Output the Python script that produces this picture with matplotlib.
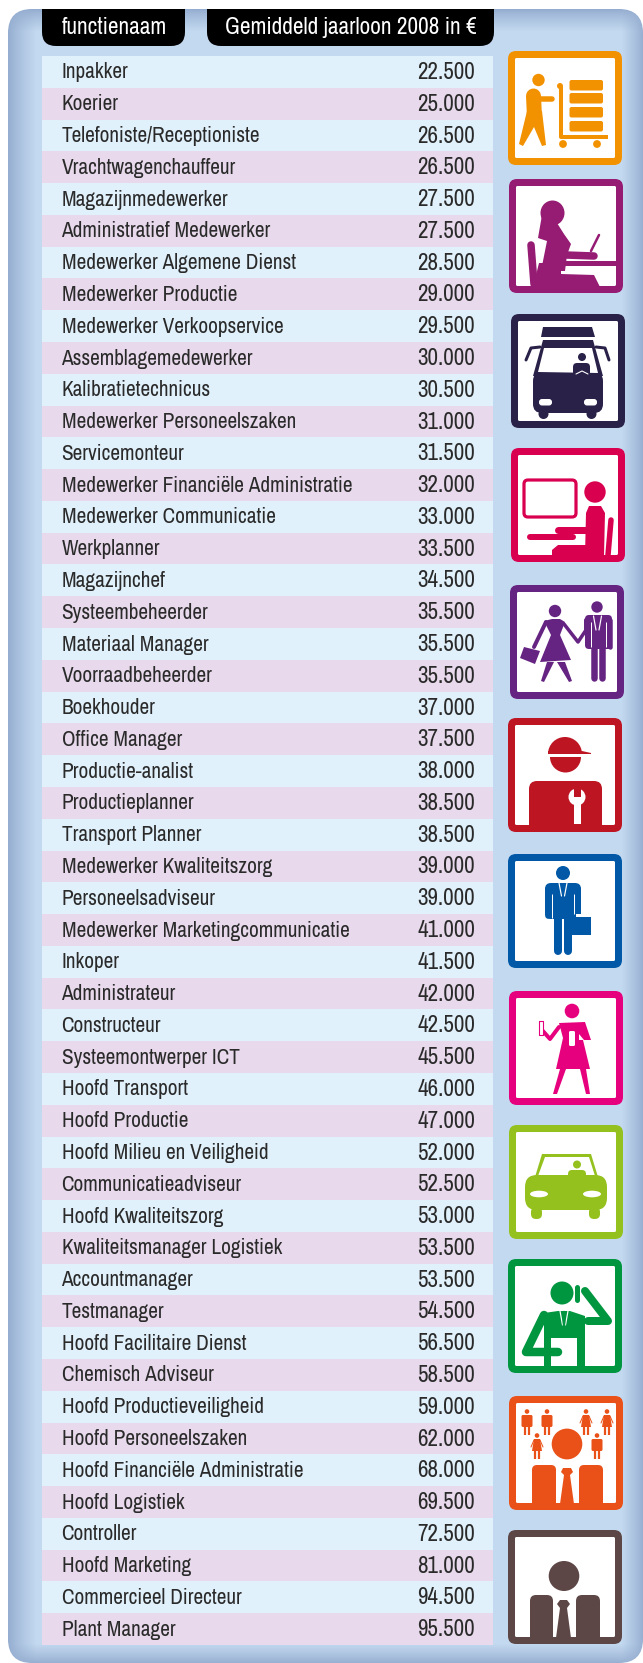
import numpy as np
import matplotlib
matplotlib.use('Agg')
import matplotlib.pyplot as plt
from matplotlib.patches import FancyBboxPatch, Circle, Ellipse, Polygon, Rectangle, Wedge

functies = ['Inpakker', 'Koerier', 'Telefoniste/Receptioniste', 'Vrachtwagenchauffeur',
            'Magazijnmedewerker', 'Administratief Medewerker', 'Medewerker Algemene Dienst',
            'Medewerker Productie', 'Medewerker Verkoopservice', 'Assemblagemedewerker',
            'Kalibratietechnicus', 'Medewerker Personeelszaken', 'Servicemonteur',
            'Medewerker Financiële Administratie', 'Medewerker Communicatie', 'Werkplanner',
            'Magazijnchef', 'Systeembeheerder', 'Materiaal Manager', 'Voorraadbeheerder',
            'Boekhouder', 'Office Manager', 'Productie-analist', 'Productieplanner',
            'Transport Planner', 'Medewerker Kwaliteitszorg', 'Personeelsadviseur',
            'Medewerker Marketingcommunicatie', 'Inkoper', 'Administrateur', 'Constructeur',
            'Systeemontwerper ICT', 'Hoofd Transport', 'Hoofd Productie',
            'Hoofd Milieu en Veiligheid', 'Communicatieadviseur', 'Hoofd Kwaliteitszorg',
            'Kwaliteitsmanager Logistiek', 'Accountmanager', 'Testmanager',
            'Hoofd Facilitaire Dienst', 'Chemisch Adviseur', 'Hoofd Productieveiligheid',
            'Hoofd Personeelszaken', 'Hoofd Financiële Administratie', 'Hoofd Logistiek',
            'Controller', 'Hoofd Marketing', 'Commercieel Directeur', 'Plant Manager']
jaarloon = [22500, 25000, 26500, 26500, 27500, 27500, 28500, 29000, 29500, 30000,
            30500, 31000, 31500, 32000, 33000, 33500, 34500, 35500, 35500, 35500,
            37000, 37500, 38000, 38500, 38500, 39000, 39000, 41000, 41500, 42000,
            42500, 45500, 46000, 47000, 52000, 52500, 53000, 53500, 53500, 54500,
            56500, 58500, 59000, 62000, 68000, 69500, 72500, 81000, 94500, 95500]
kop_naam = 'functienaam'
kop_loon = 'Gemiddeld jaarloon 2008 in €'

FONT = ['Archivo Narrow', 'Liberation Sans', 'DejaVu Sans']
BLAUW = '#e1f1fb'
PAARS = '#e8daec'

fig = plt.figure(figsize=(6.43, 16.63), dpi=100)
ax = fig.add_axes([0, 0, 1, 1])
ax.set_xlim(0, 643)
ax.set_ylim(1663, 0)
ax.axis('off')


def rrect(x, y, w, h, r, color, z=2, **kw):
    p = FancyBboxPatch((x + r, y + r), w - 2 * r, h - 2 * r,
                       boxstyle=f'round,pad={r},rounding_size={r}',
                       fc=color, ec='none', lw=0, zorder=z, **kw)
    ax.add_patch(p)
    return p


# achtergrond met donkere randen
yy, xx = np.mgrid[0:1663, 0:643]
t = (np.clip((xx - 8) / 28, 0, 1) * np.clip((643 - xx) / 22, 0, 1)
     * np.clip((yy - 9) / 22, 0, 1) * np.clip((1663 - yy) / 20, 0, 1))
t = t[..., None] ** 0.8
rand = np.array([0x94, 0xac, 0xcf]) / 255
midden = np.array([0xc3, 0xd9, 0xf0]) / 255
paneel = rrect(8, 9, 635, 1654, 24, 'none', z=0)
im = ax.imshow(rand + (midden - rand) * t, extent=(0, 643, 1663, 0), aspect='auto', zorder=1)
im.set_clip_path(paneel)
ax.set_xlim(0, 643)
ax.set_ylim(1663, 0)

# kopjes
for x, w, tekst, tx in [(42, 143, kop_naam, 114.5), (207, 287, kop_loon, 350.5)]:
    rrect(x, 9, w, 37, 14, 'black', z=2)
    ax.add_patch(Rectangle((x, 9), w, 16, fc='black', ec='none', zorder=2))
    ax.text(tx, 27, tekst, color='white', ha='center', va='center', fontsize=16.8,
            family=FONT, zorder=3)

# tabel
RIJ_TOP = 56
RIJ_H = 31.78
rij = np.arange(len(functies))
ax.barh(RIJ_TOP + (rij + 0.5) * RIJ_H, 451, height=RIJ_H, left=42,
        color=[BLAUW if i % 2 == 0 else PAARS for i in rij], zorder=2)
for i, naam in enumerate(functies):
    y = RIJ_TOP + (i + 0.5) * RIJ_H + 0.6
    ax.text(61.5, y, naam, color='#2a2a2a', va='center', ha='left', fontsize=15.3,
            family=FONT, zorder=3)
    loon = f'{jaarloon[i]:,}'.replace(',', '.')
    ax.text(475, y, loon, color='#2a2a2a', va='center', ha='right', fontsize=16.6,
            family=FONT, zorder=3)


class Icoon:
    def __init__(self, x, y, kleur):
        self.x = x
        self.y = y
        self.k = kleur
        rrect(x, y, 114, 114, 8, kleur, z=3)
        rrect(x + 7, y + 7, 100, 100, 1.5, 'white', z=3.1)

    def poly(self, pts, kleur=None):
        pts = [(self.x + a, self.y + b) for a, b in pts]
        ax.add_patch(Polygon(pts, closed=True, fc=kleur or self.k, ec='none', zorder=4))

    def cirkel(self, a, b, r, kleur=None):
        ax.add_patch(Circle((self.x + a, self.y + b), r, fc=kleur or self.k, ec='none', zorder=4))

    def ellips(self, a, b, rx, ry, kleur=None):
        ax.add_patch(Ellipse((self.x + a, self.y + b), 2 * rx, 2 * ry, fc=kleur or self.k,
                             ec='none', zorder=4))

    def lijn(self, pts, w, kleur=None, cap='round'):
        xs = [self.x + p[0] for p in pts]
        ys = [self.y + p[1] for p in pts]
        ax.plot(xs, ys, color=kleur or self.k, lw=w * 0.72, solid_capstyle=cap,
                solid_joinstyle='round', zorder=4)

    def blok(self, a, b, w, h, r, kleur=None):
        rrect(self.x + a, self.y + b, w, h, r, kleur or self.k, z=4)

    def schouder(self, a, b, w, r):
        # blok dat doorloopt tot in de rand
        self.blok(a, b, w, 30, r)
        self.poly([(a, b + r), (a + w, b + r), (a + w, 109), (a, 109)])

    def pak_kraag(self, a, b, l=12):
        self.lijn([(a - 4, b), (a - 1.5, b + l)], 1.2, 'white')
        self.lijn([(a + 4, b), (a + 1.5, b + l)], 1.2, 'white')


# 1 inpakker
i1 = Icoon(508, 51, '#f39200')
i1.cirkel(30.5, 29, 6.2)
i1.lijn([(25.5, 45), (26.5, 66)], 15)
i1.lijn([(30, 47.5), (44, 47.5)], 5.5)
i1.poly([(19, 60), (34, 60), (38, 94), (34, 95), (26, 76), (15, 95), (11, 93)])
i1.lijn([(53, 36), (53, 86), (100, 86)], 4, cap='butt')
i1.cirkel(52, 35, 3)
i1.cirkel(55, 93, 3.9)
i1.cirkel(89, 93, 3.9)
for b in [29, 42, 56, 70]:
    i1.blok(61.5, b, 33.5, 10.5, 2)

# 2 administratie
i2 = Icoon(509, 179, '#951b73')
i2.ellips(43.5, 34, 12, 12.5)
i2.poly([(33, 36), (29, 59), (38, 62), (32, 92), (56, 92), (58, 76), (62, 65), (55, 55), (48, 44)])
i2.lijn([(57, 76), (85, 77)], 7.5)
i2.lijn([(90, 56), (82, 72)], 2.5)
i2.poly([(52, 82), (107, 82), (107, 87), (52, 87)])
i2.lijn([(22, 66), (25, 105)], 7.5)
i2.poly([(30, 84), (52, 84), (52, 95), (85, 96), (91, 108), (24, 108)])

# 3 bus
i3 = Icoon(511, 314, '#2a2149')
i3.poly([(32, 13), (81, 13), (84, 23), (30, 23)])
i3.poly([(32, 26), (82, 26), (92, 62), (22, 62)])
i3.blok(22, 58, 70, 41, 9)
i3.poly([(33, 34), (81, 34), (87, 59), (27, 58)], 'white')
i3.cirkel(71, 43, 4)
i3.blok(62, 49, 17, 14, 4)
i3.lijn([(65, 60), (71, 57), (77, 60)], 1.1, 'white')
i3.blok(28, 85, 13, 6.5, 3, 'white')
i3.blok(73, 85, 13, 6.5, 3, 'white')
i3.cirkel(32.5, 100, 5)
i3.cirkel(80.5, 100, 5)
i3.lijn([(29, 33), (20, 34), (15, 46)], 3)
i3.lijn([(85, 33), (94, 34), (98, 46)], 3)

# 4 beeldscherm
i4 = Icoon(511, 448, '#d9004f')
ax.add_patch(FancyBboxPatch((511 + 16, 448 + 35), 46, 31, boxstyle='round,pad=3,rounding_size=4',
                            fc='white', ec='#d9004f', lw=2.3, zorder=4))
i4.cirkel(84, 44, 10.7)
i4.poly([(74, 108), (75, 65), (78, 58), (90, 58), (94, 65), (93, 108)])
i4.lijn([(47, 82), (75, 82)], 7)
i4.lijn([(19, 89), (62, 89)], 6)
i4.lijn([(100, 72), (97, 107)], 5.5)
i4.poly([(41, 108), (41, 102), (47, 97), (75, 97), (75, 108)])

# 5 koppel
i5 = Icoon(510, 585, '#662482')
i5.cirkel(45, 26, 6.2)
i5.poly([(34, 36), (42, 34), (50, 34), (55, 37), (50, 50), (61, 75), (30, 77), (41, 50)])
i5.lijn([(36, 37), (24, 62)], 4)
i5.lijn([(54, 39), (68, 57), (76, 45)], 3.5)
i5.poly([(37, 77), (44, 77), (34, 97), (31, 96)])
i5.poly([(47, 77), (55, 77), (62, 96), (59, 97)])
i5.poly([(14, 62), (30, 66), (25, 79), (10, 73)])
i5.cirkel(87, 22, 5.7)
i5.blok(75, 30, 27, 34, 4)
i5.lijn([(76, 35), (76, 45)], 4)
i5.lijn([(99.5, 35), (99.5, 62)], 4.5)
i5.lijn([(83.5, 62), (83.5, 93)], 6.5)
i5.lijn([(92, 62), (92, 93)], 6.5)
i5.lijn([(80.5, 37), (80.5, 62)], 1, 'white', cap='butt')
i5.lijn([(95.5, 37), (95.5, 62)], 1, 'white', cap='butt')
i5.pak_kraag(87.5, 31, 14)

# 6 monteur
i6 = Icoon(508, 718, '#be1522')
ax.add_patch(Wedge((508 + 57, 718 + 36), 17, 180, 360, fc='#be1522', ec='none', zorder=4))
i6.poly([(40, 33), (74, 33), (83, 35), (83, 36), (40, 36)])
ax.add_patch(Wedge((508 + 57.5, 718 + 39), 15.5, 0, 180, fc='#be1522', ec='none', zorder=4))
i6.schouder(21, 63, 73, 8)
i6.cirkel(69, 79, 8.5, 'white')
i6.poly([(65.5, 82), (72.5, 82), (72.5, 106), (65.5, 106)], 'white')
i6.poly([(65.5, 70), (72.5, 70), (72.5, 79), (65.5, 79)], '#be1522')

# 7 zakenman
i7 = Icoon(508, 854, '#0058a6')
i7.cirkel(55, 19, 7)
i7.blok(37, 29, 36, 36, 6)
i7.lijn([(40, 35), (40, 62)], 5.5)
i7.lijn([(70, 35), (70, 60)], 5.5)
i7.poly([(59, 63), (83, 63), (83, 81), (59, 81)])
i7.poly([(68, 60), (76, 60), (76, 63), (68, 63)], 'white')
i7.lijn([(50, 62), (50, 97)], 8)
i7.lijn([(60, 62), (60, 97)], 8)
i7.lijn([(44, 40), (44, 64)], 1, 'white', cap='butt')
i7.lijn([(65.5, 40), (65.5, 60)], 1, 'white', cap='butt')
i7.pak_kraag(55, 29, 13)
i7.lijn([(55, 30), (55, 42)], 2)

# 8 laborante
i8 = Icoon(509, 991, '#e6007e')
i8.cirkel(63, 20, 7.3)
i8.poly([(50, 32), (76, 31), (82, 49), (74, 49), (81, 78), (47, 78), (54, 47)])
i8.lijn([(50, 36), (41, 48), (33, 39)], 4)
i8.poly([(51, 78), (57, 78), (48, 103), (44, 103)])
i8.poly([(71, 78), (77, 78), (81, 103), (77, 103)])
i8.blok(29.5, 29, 5, 16, 1.5, 'white')
i8.lijn([(30, 30), (30, 44), (34, 44), (34, 30), (30, 30)], 1.1)
i8.blok(60, 40, 6, 15, 1.5, 'white')
i8.poly([(70, 43), (75, 49), (70, 49)], 'white')

# 9 chauffeur
i9 = Icoon(509, 1125, '#95c11f')
i9.poly([(33, 29), (82, 29), (89, 52), (26, 52)])
i9.poly([(36, 32), (80, 32), (86, 51), (29, 51)], 'white')
i9.cirkel(68, 39.5, 4)
i9.blok(59, 45, 18, 10, 4)
i9.blok(16, 50, 82, 35, 12)
i9.ellips(30, 69, 9, 3.3, 'white')
i9.ellips(83, 69, 9, 3.3, 'white')
i9.blok(22, 82, 11, 12, 5)
i9.blok(80, 82, 11, 12, 5)

# 10 telefoon
i10 = Icoon(508, 1259, '#009640')
i10.ellips(54, 34, 11.5, 11.5)
i10.lijn([(69, 28), (69, 41)], 5)
i10.lijn([(77, 32), (100, 62), (80, 62)], 8)
i10.poly([(36, 54), (50, 52), (62, 52), (77, 57), (77, 107), (36, 107)])
i10.poly([(43, 79), (69, 79), (69, 107), (43, 107)], 'white')
i10.lijn([(36, 56), (18, 93), (50, 93)], 8.5)
i10.pak_kraag(56, 52, 14)
i10.lijn([(56, 53), (56, 66)], 2.5)

# 11 personeelszaken
i11 = Icoon(509, 1396, '#ea5118')
for a, b, vrouw in [(18, 25, False), (38, 25, False), (77, 25, True), (98, 25, True),
                    (28, 49, True), (88, 49, False)]:
    i11.cirkel(a, b - 9.5, 2.3)
    if vrouw:
        i11.poly([(a - 3, b - 6), (a + 3, b - 6), (a + 5, b + 6), (a - 5, b + 6)])
        i11.lijn([(a - 3, b - 5), (a - 6, b + 2)], 1)
        i11.lijn([(a + 3, b - 5), (a + 6, b + 2)], 1)
    else:
        i11.blok(a - 5.5, b - 6, 11, 12, 1.5)
    i11.lijn([(a - 1.7, b + 4), (a - 1.7, b + 14)], 2.2, cap='butt')
    i11.lijn([(a + 1.7, b + 4), (a + 1.7, b + 14)], 2.2, cap='butt')
i11.ellips(58, 48, 15.3, 15.4)
i11.schouder(23, 69, 24, 5)
i11.schouder(70, 69, 24, 5)
i11.poly([(54, 72), (62, 72), (64, 76), (61, 79), (65, 108), (51, 108), (55, 79), (52, 76)])

# 12 directeur
i12 = Icoon(508, 1530, '#5d4746')
i12.ellips(56, 46, 15.3, 15)
i12.schouder(22, 65, 23, 6)
i12.schouder(68, 65, 24, 6)
i12.poly([(52, 70), (59, 70), (62, 74), (59, 78), (63, 108), (48, 108), (52, 78), (49, 74)])

plt.savefig('out.png', dpi=100)
